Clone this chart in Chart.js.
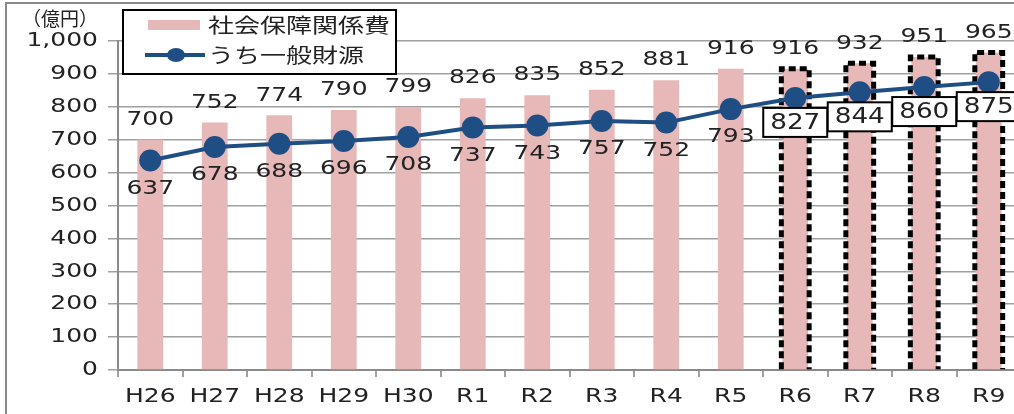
<!DOCTYPE html>
<html>
<head>
<meta charset="utf-8">
<script src="https://cdn.jsdelivr.net/npm/chart.js@4.4.1/dist/chart.umd.min.js"></script>
<style>
  html, body { margin: 0; padding: 0; background: #fff; overflow: hidden; }
  #wrap { position: absolute; left: 0; top: 0; width: 1040px; height: 414px; }
</style>
</head>
<body>
<div id="wrap"><canvas id="c" width="1040" height="414"></canvas></div>
<script>
const categories = ['H26','H27','H28','H29','H30','R1','R2','R3','R4','R5','R6','R7','R8','R9'];
const socialSecurity = [700,752,774,790,799,826,835,852,881,916,916,932,951,965];
const generalFund = [637,678,688,696,708,737,743,757,752,793,827,844,860,875];
const projectedCategories = ['R6','R7','R8','R9'];
const yTicks = [0,100,200,300,400,500,600,700,800,900,1000];
const seriesNames = ['社会保障関係費','うち一般財源'];
const unitLabel = '（億円）';

const BAR_COLOR = '#e6b8b7';
const LINE_COLOR = '#1f4e84';
const TEXT_COLOR = '#222222';
const GRID_COLOR = '#a0a0a0';
const NUM_FONT = '20px "DejaVu Sans", Verdana, sans-serif';
const SX = 1.25;

function stretchText(ctx, text, x, y, align, font, sx) {
  ctx.save();
  ctx.font = font;
  ctx.fillStyle = TEXT_COLOR;
  ctx.textAlign = align;
  ctx.textBaseline = 'middle';
  ctx.translate(x, y);
  ctx.scale(sx, 1);
  ctx.fillText(text, 0, 0);
  ctx.restore();
}

const framePlugin = {
  id: 'frame',
  beforeDraw(chart) {
    const ctx = chart.ctx;
    ctx.save();
    ctx.fillStyle = '#fff';
    ctx.fillRect(0, 0, chart.width, chart.height);
    ctx.strokeStyle = '#8a8a8a';
    ctx.lineWidth = 2;
    ctx.beginPath();
    ctx.moveTo(6, 414); ctx.lineTo(6, 3); ctx.lineTo(chart.width, 3);
    ctx.stroke();
    ctx.restore();
  }
};

const dashedPlugin = {
  id: 'dashedBars',
  afterDatasetDraw(chart, args) {
    if (args.index !== 1) return;
    const ctx = chart.ctx;
    const meta = chart.getDatasetMeta(1);
    ctx.save();
    ctx.strokeStyle = '#000';
    ctx.lineWidth = 5;
    ctx.setLineDash([7, 4]);
    meta.data.forEach((bar, i) => {
      if (!projectedCategories.includes(categories[i])) return;
      const w = bar.width + 2;
      const l = bar.x - w / 2, r = bar.x + w / 2;
      ctx.beginPath();
      ctx.moveTo(l, bar.base);
      ctx.lineTo(l, bar.y);
      ctx.lineTo(r, bar.y);
      ctx.lineTo(r, bar.base);
      ctx.stroke();
    });
    ctx.restore();
  }
};

const labelsPlugin = {
  id: 'labels',
  afterDraw(chart) {
    const ctx = chart.ctx;
    const xs = chart.scales.x, ys = chart.scales.y;
    yTicks.forEach(v => {
      const label = v.toLocaleString('en-US');
      stretchText(ctx, label, 98, ys.getPixelForValue(v), 'right', NUM_FONT, SX);
    });
    categories.forEach((c, i) => {
      stretchText(ctx, c, xs.getPixelForValue(i), 397, 'center', NUM_FONT, SX);
    });
    const barMeta = chart.getDatasetMeta(1);
    barMeta.data.forEach((bar, i) => {
      stretchText(ctx, String(socialSecurity[i]), bar.x, bar.y - 20, 'center', NUM_FONT, SX);
    });
    const lineMeta = chart.getDatasetMeta(0);
    lineMeta.data.forEach((pt, i) => {
      if (projectedCategories.includes(categories[i])) {
        const w = 64, h = 29, top = pt.y + 10;
        ctx.save();
        ctx.fillStyle = '#fff';
        ctx.strokeStyle = '#000';
        ctx.lineWidth = 2;
        ctx.fillRect(pt.x - w / 2, top, w, h);
        ctx.strokeRect(pt.x - w / 2, top, w, h);
        ctx.restore();
        stretchText(ctx, String(generalFund[i]), pt.x, top + h / 2 + 1, 'center', '21px "DejaVu Sans", Verdana, sans-serif', SX);
      } else {
        stretchText(ctx, String(generalFund[i]), pt.x, pt.y + 28, 'center', NUM_FONT, SX);
      }
    });
    stretchText(ctx, unitLabel, 22, 19, 'left', '19px "Noto Sans CJK JP", sans-serif', 1.0);
    ctx.save();
    ctx.fillStyle = '#fff';
    ctx.fillRect(123, 10, 273, 64);
    ctx.strokeStyle = '#000';
    ctx.lineWidth = 2;
    ctx.strokeRect(123, 10, 273, 64);
    ctx.fillStyle = BAR_COLOR;
    ctx.fillRect(148, 20, 52, 10);
    ctx.strokeStyle = LINE_COLOR;
    ctx.lineWidth = 4;
    ctx.beginPath(); ctx.moveTo(145, 55); ctx.lineTo(205, 55); ctx.stroke();
    ctx.fillStyle = LINE_COLOR;
    ctx.beginPath(); ctx.ellipse(176, 55, 9, 7, 0, 0, Math.PI * 2); ctx.fill();
    ctx.restore();
    const legFont = '20px "Noto Sans CJK JP", sans-serif';
    stretchText(ctx, seriesNames[0], 208, 25, 'left', legFont, 1.3);
    stretchText(ctx, seriesNames[1], 208, 55, 'left', legFont, 1.3);
  }
};

new Chart(document.getElementById('c'), {
  type: 'bar',
  data: {
    labels: categories,
    datasets: [
      {
        type: 'line',
        label: seriesNames[1],
        data: generalFund,
        borderColor: LINE_COLOR,
        backgroundColor: LINE_COLOR,
        borderWidth: 4,
        pointRadius: 11,
        pointBackgroundColor: LINE_COLOR,
        pointBorderColor: LINE_COLOR,
        pointBorderWidth: 0,
        tension: 0,
        order: 0
      },
      {
        type: 'bar',
        label: seriesNames[0],
        data: socialSecurity,
        backgroundColor: BAR_COLOR,
        borderWidth: 0,
        barPercentage: 0.4,
        categoryPercentage: 1.0,
        order: 1
      }
    ]
  },
  options: {
    responsive: false,
    animation: false,
    devicePixelRatio: 1,
    layout: { padding: { left: 0, top: 41, right: 19, bottom: 0 } },
    plugins: { legend: { display: false }, tooltip: { enabled: false } },
    scales: {
      x: {
        ticks: { display: false },
        grid: { display: true, drawOnChartArea: false, drawTicks: true, tickLength: 7, color: GRID_COLOR, lineWidth: 2, offset: true },
        border: { display: true, color: '#8a8a8a', width: 2 },
        afterFit(scale) { scale.height = 44; }
      },
      y: {
        min: 0, max: 1000,
        ticks: { display: false, stepSize: 100 },
        grid: { color: GRID_COLOR, lineWidth: 1.5, drawTicks: true, tickLength: 10 },
        border: { display: true, color: '#8a8a8a', width: 2 },
        afterFit(scale) { scale.width = 118; }
      }
    }
  },
  plugins: [framePlugin, dashedPlugin, labelsPlugin]
});
</script>
</body>
</html>
